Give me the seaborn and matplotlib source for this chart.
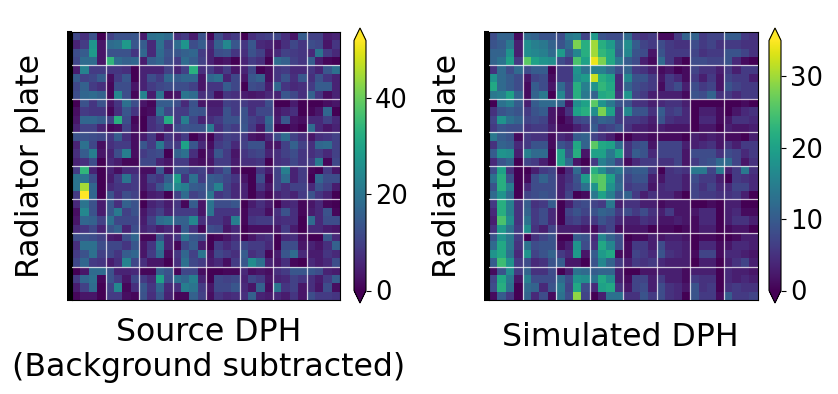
import numpy as np
import matplotlib
matplotlib.use('Agg')
import matplotlib.pyplot as plt
import seaborn as sns

# counts per pixel, one row per line
source_dph = [
    [11,7,13,0,10,13,13,14,4,19,20,18,7,9,4,13, 1,12,7,9,0,7,9,10,11,7,3,15,10,10,4,5],
    [5,9,27,3,18,19,28,14,15,6,19,11,18,27,12,15, 6,16,24,14,8,14,6,5,3,7,11,8,12,11,3,8],
    [12,15,28,3,13,13,13,8,17,6,18,13,14,16,17,9, 5,12,13,8,7,13,10,3,6,10,9,8,6,20,9,6],
    [11,18,18,3,34,18,16,17,4,15,17,12,9,18,15,10, 5,2,3,0,5,9,7,0,18,16,10,8,15,4,1,0],
    [4,23,9,9,8,8,7,0,5,5,5,10,5,10,33,7, 9,5,9,3,5,11,0,2,8,9,6,6,8,5,14,19],
    [15,10,11,15,2,9,14,0,5,12,9,17,15,17,17,3, 17,19,5,11,3,14,16,2,8,13,7,14,7,13,8,5],
    [11,16,9,7,1,12,12,3,5,9,11,12,12,12,10,3, 8,8,15,11,0,12,11,4,17,8,6,7,9,15,15,5],
    [12,17,18,16,1,24,12,1,23,4,20,2,3,20,18,7, 9,2,8,7,4,3,4,6,5,14,11,7,16,8,2,5],
    [0,13,8,13,3,8,19,12,3,1,15,15,12,6,13,3, 4,4,10,9,9,7,7,12,0,0,4,0,0,0,2,3],
    [2,9,8,8,1,7,14,8,1,2,19,11,9,9,14,13, 5,5,13,9,13,7,11,11,3,5,7,0,1,3,17,0],
    [3,17,17,15,10,33,12,1,0,7,11,32,9,22,11,5, 7,9,13,13,13,10,8,17,4,14,3,2,6,6,10,6],
    [5,10,10,5,1,2,10,2,0,7,9,4,12,14,13,13, 21,7,11,9,14,9,3,15,0,0,2,0,18,6,3,5],
    [13,13,12,11,8,15,7,2,4,9,2,8,5,9,0,3, 0,7,10,9,9,3,2,6,12,18,10,7,3,7,8,10],
    [5,19,11,2,7,9,9,2,14,9,21,10,9,30,14,6, 2,9,11,6,10,13,13,3,3,10,16,10,7,17,18,10],
    [7,15,22,3,5,12,22,2,9,11,12,0,16,19,7,1, 4,14,9,3,8,10,11,5,7,10,12,8,7,9,6,10],
    [5,7,12,0,6,4,1,1,11,11,5,3,9,9,3,2, 3,9,9,4,7,7,8,0,7,8,11,8,9,21,1,11],
    [9,34,5,0,5,2,6,6,2,2,14,2,12,12,9,10, 5,9,14,3,0,0,8,4,10,22,5,9,1,0,9,3],
    [20,20,12,0,4,9,20,9,3,10,8,15,29,8,19,9, 15,14,11,8,3,0,12,1,10,18,5,9,0,17,12,12],
    [20,45,17,0,6,8,8,9,3,7,13,20,24,22,15,14, 15,23,10,6,5,0,8,3,10,7,10,10,6,13,10,4],
    [9,52,17,0,13,7,12,10,1,4,5,0,10,18,10,12, 20,8,10,6,5,0,4,1,5,7,5,9,13,8,5,0],
    [6,20,13,4,14,7,16,13,0,5,7,4,8,1,15,3, 20,12,12,14,0,4,7,4,0,5,6,1,3,6,1,0],
    [2,24,13,4,14,21,10,13,3,7,10,5,9,9,9,3, 20,8,8,8,1,6,6,2,7,13,7,1,4,6,13,1],
    [3,17,16,10,19,11,11,11,4,10,18,20,16,16,24,7, 8,8,5,22,1,8,9,9,6,7,7,0,18,6,12,12],
    [6,8,11,5,13,16,5,12,5,7,4,6,3,15,8,1, 12,11,3,6,0,2,2,2,3,9,4,0,6,6,4,3],
    [12,13,12,10,4,3,12,17,1,1,13,5,8,20,14,12, 0,1,3,6,0,3,6,7,0,6,7,2,0,0,14,6],
    [7,19,19,12,11,11,8,14,3,8,21,5,1,11,15,4, 0,9,6,9,11,9,9,6,0,12,12,3,5,3,7,16],
    [9,13,19,10,11,8,15,17,3,9,18,2,8,17,10,20, 3,11,9,7,15,7,9,1,4,14,18,6,4,4,8,6],
    [11,17,9,8,4,7,23,11,7,3,3,0,7,19,11,9, 4,6,2,9,14,25,19,5,3,7,1,0,6,4,6,12],
    [0,3,18,18,13,5,5,6,1,1,16,13,1,11,11,2, 0,0,1,1,6,2,3,2,7,9,14,14,14,12,5,4],
    [9,17,19,1,13,9,3,11,9,6,30,12,19,17,22,5, 0,11,10,11,5,11,9,3,5,6,10,8,7,4,9,15],
    [4,10,18,0,10,24,1,7,14,8,17,6,7,22,20,9, 3,11,11,14,6,3,16,2,20,8,10,3,7,3,12,2],
    [1,3,3,0,9,9,2,1,13,7,14,5,1,1,16,10, 2,8,6,7,7,16,5,4,6,4,8,3,12,9,9,8],
]

simulated_dph = [
    [8,11,11,1,12,11,9,9,8,14,15,7,19,9,8,8, 12,6,5,6,1,1,6,11,11,6,7,7,10,10,6,5],
    [9,10,14,3,17,15,14,11,9,12,28,22,30,22,19,11, 17,10,7,6,8,6,5,5,8,6,7,5,6,6,5,5],
    [11,11,18,3,17,16,15,12,19,10,16,22,30,23,21,10, 16,9,8,2,9,6,6,6,7,5,6,6,9,9,7,5],
    [11,13,20,6,26,20,18,17,8,6,25,20,34,28,21,14, 10,8,3,1,12,6,2,0,8,8,7,7,9,4,1,0],
    [5,12,8,12,8,10,10,0,6,6,18,13,15,15,12,8, 11,6,5,3,1,2,0,1,7,5,5,3,6,3,6,6],
    [18,12,10,8,2,7,8,1,6,6,17,19,32,22,20,4, 16,9,9,6,2,6,4,1,6,3,6,2,7,6,6,3],
    [21,12,10,8,1,10,8,2,12,7,22,15,18,23,21,4, 11,8,7,6,1,6,8,3,8,6,7,2,9,7,6,6],
    [14,15,20,11,1,11,14,0,16,7,22,14,11,21,22,5, 18,7,6,3,3,3,3,1,9,8,11,5,6,4,6,6],
    [0,13,15,10,3,10,12,12,11,2,17,20,26,18,14,9, 9,5,5,3,4,5,5,3,0,0,0,0,0,0,1,0],
    [5,9,10,9,6,9,10,2,1,5,20,22,17,28,20,6, 16,9,9,5,10,6,7,4,0,3,3,1,0,2,4,5],
    [7,18,13,11,7,8,7,2,0,2,7,8,9,11,10,6, 6,6,5,3,9,5,4,4,0,4,4,1,2,5,5,4],
    [6,9,8,8,5,6,6,3,1,1,3,5,10,6,7,9, 5,3,3,2,3,2,2,2,0,2,2,0,3,2,2,3],
    [14,10,9,1,6,5,5,1,4,3,10,11,7,5,3,0, 0,2,2,1,1,1,1,0,3,2,3,2,1,1,0,3],
    [5,11,10,4,6,9,9,1,9,7,21,11,26,21,20,12, 5,8,9,2,7,7,7,3,3,4,5,2,5,3,6,6],
    [10,18,17,3,15,12,12,0,20,9,22,2,20,20,14,20, 5,10,9,4,7,7,7,2,8,8,8,5,8,7,4,6],
    [4,9,11,0,7,6,3,0,20,12,2,0,6,15,12,7, 1,4,6,6,5,5,7,2,6,8,9,12,12,7,2,5],
    [8,20,5,0,0,3,6,7,0,4,12,5,22,17,12,14, 9,10,10,6,0,5,6,5,14,14,7,14,3,6,14,5],
    [13,22,9,0,1,8,11,8,3,5,9,19,25,26,20,11, 7,9,9,3,2,5,5,3,8,6,6,3,0,6,5,4],
    [9,22,15,0,4,8,8,8,3,6,8,13,18,26,18,12, 6,7,7,2,4,5,5,3,7,5,7,4,4,7,7,4],
    [12,18,12,0,7,8,9,8,3,7,0,1,14,20,15,9, 11,6,3,5,4,4,2,0,7,6,6,5,5,6,3,0],
    [6,22,15,5,10,5,6,10,0,3,7,8,7,6,14,3, 5,5,3,3,1,2,2,2,0,0,1,0,3,3,0,0],
    [4,22,15,5,11,6,8,4,0,7,9,7,9,11,10,6, 8,6,8,5,3,6,2,2,2,4,4,0,3,4,1,1],
    [3,25,17,5,13,6,8,4,0,6,7,5,6,9,7,4, 3,3,5,4,2,2,3,2,1,4,4,0,3,5,5,3],
    [5,19,13,6,17,5,3,7,3,3,3,2,1,5,7,1, 2,2,2,0,1,1,0,1,1,3,3,0,1,2,2,0],
    [9,18,14,6,0,5,7,9,0,0,10,9,4,16,11,8, 0,1,1,3,2,3,3,2,0,1,1,0,0,1,3,3],
    [12,21,14,5,13,8,9,9,1,3,18,8,5,21,16,8, 1,6,6,3,8,4,4,3,0,4,4,1,2,4,4,3],
    [18,21,13,4,18,7,9,11,6,4,19,2,10,19,21,1, 1,7,6,4,9,5,4,3,1,7,7,1,4,4,3,2],
    [10,24,18,6,8,4,5,9,10,2,2,0,9,16,11,6, 3,6,5,6,4,3,3,3,0,3,3,0,3,5,7,3],
    [1,9,17,6,11,5,5,8,0,3,13,12,10,11,11,3, 0,0,2,2,3,3,3,1,3,3,3,0,4,3,3,2],
    [7,21,14,2,15,8,8,8,12,8,18,17,13,21,17,3, 1,7,7,3,6,3,3,1,6,5,5,0,4,3,4,3],
    [8,22,13,0,12,11,4,9,14,7,21,8,4,20,21,5, 2,7,8,3,8,5,4,2,9,5,6,0,5,6,5,5],
    [1,10,6,0,11,4,8,1,13,8,29,7,0,3,13,13, 5,5,9,6,8,5,4,0,9,6,6,1,10,6,6,7],
]

source_label = 'Source DPH\n(Background subtracted)'
simulated_label = 'Simulated DPH'
source_ticks = [0, 20, 40]
simulated_ticks = [0, 10, 20, 30]


def draw_dph(data, ax, cax, vmax, ticks, xlabel, xpad, xpos):
    sns.heatmap(np.array(data), ax=ax, cbar_ax=cax, cmap='viridis', vmin=0, vmax=vmax,
                xticklabels=False, yticklabels=False, cbar_kws={'extend': 'both', 'ticks': ticks})
    for spine in ax.spines.values():
        spine.set_visible(True)
        spine.set_linewidth(0.8)
    # white module boundaries every 4 pixels
    ax.set_xticks(np.arange(4, 32, 4))
    ax.set_yticks(np.arange(4, 32, 4))
    ax.set_yticks(np.arange(0, 32.01, 0.1), minor=True)
    ax.tick_params(axis='x', length=0, labelbottom=False)
    ax.tick_params(axis='y', which='both', length=3.5, width=1.5, left=True, labelleft=False)
    ax.grid(True, which='major', color='white', linewidth=0.9, alpha=0.75)
    ax.set_axisbelow(False)
    ax.set_xlabel(xlabel, fontsize=22.7, labelpad=xpad, x=xpos)
    ax.set_ylabel('Radiator plate', fontsize=22.8, labelpad=15)
    cbar = ax.collections[0].colorbar
    cbar.outline.set_visible(True)
    cbar.outline.set_linewidth(0.8)
    cbar.ax.tick_params(labelsize=18.5, length=3.5, width=0.8, pad=3)


W, H = 838, 394
fig = plt.figure(figsize=(W / 100, H / 100), dpi=100)


def px_axes(x0, y0, x1, y1):
    return fig.add_axes([x0 / W, 1 - y1 / H, (x1 - x0) / W, (y1 - y0) / H])


ax1 = px_axes(72, 32, 340, 300)
cax1 = px_axes(354, 28, 366, 303)
ax2 = px_axes(489, 32, 757.5, 300)
cax2 = px_axes(769, 28, 781, 303)

draw_dph(source_dph, ax1, cax1, 52, source_ticks, source_label, 12, 0.51)
draw_dph(simulated_dph, ax2, cax2, 35, simulated_ticks, simulated_label, 16, 0.49)

fig.savefig('out.png', dpi=100)
